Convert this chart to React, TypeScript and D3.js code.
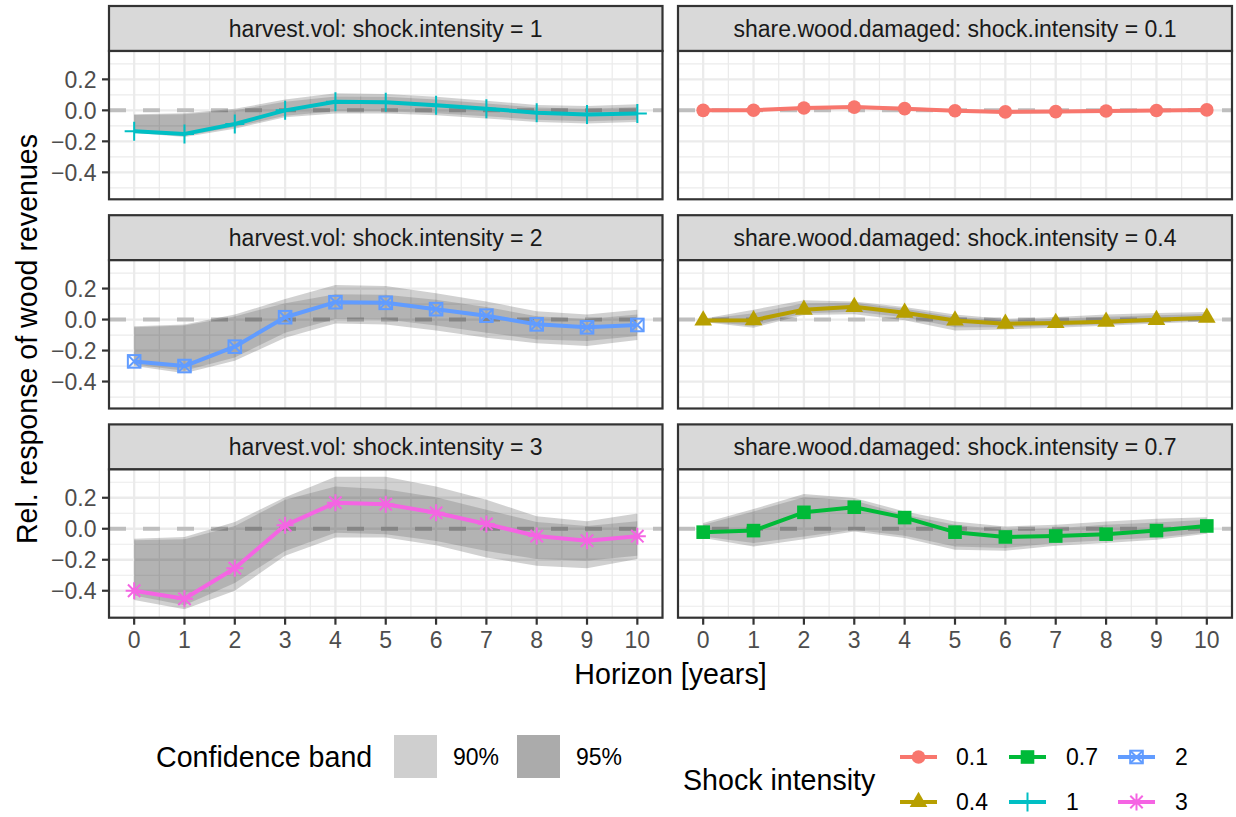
import React from 'react';
import * as d3 from 'd3';

// ---- data -------------------------------------------------------------
const horizon = [0, 1, 2, 3, 4, 5, 6, 7, 8, 9, 10];
const xTickLabels = ['0', '1', '2', '3', '4', '5', '6', '7', '8', '9', '10'];
const xMinorBreaks = [0.5, 1.5, 2.5, 3.5, 4.5, 5.5, 6.5, 7.5, 8.5, 9.5];
const yMajorBreaks = [-0.4, -0.2, 0, 0.2];
const yTickLabels = ['\u22120.4', '\u22120.2', '0.0', '0.2'];
const yMinorBreaks = [-0.5, -0.3, -0.1, 0.1, 0.3];

const intensityLevels = ['0.1', '0.4', '0.7', '1', '2', '3'];
const intensityColors = ['#F8766D', '#B79F00', '#00BA38', '#00BFC4', '#619CFF', '#F564E3'];
const intensityShapes = ['circle', 'triangle', 'square', 'plus', 'boxx', 'asterisk'];

const bandLabels = ['90%', '95%'];
const bandKeyColors = ['#CFCFCF', '#ABABAB'];

// harvest.vol, shock.intensity = 1
const hv1Est = [-0.135, -0.152, -0.088, 0.0, 0.056, 0.053, 0.033, 0.01, -0.015, -0.027, -0.02];
const hv1WideHi = [-0.025, -0.018, 0.01, 0.07, 0.11, 0.105, 0.088, 0.062, 0.034, 0.028, 0.04];
const hv1WideLo = [-0.145, -0.172, -0.118, -0.045, -0.02, -0.02, -0.032, -0.052, -0.075, -0.085, -0.075];
const hv1NarHi = [-0.03, -0.025, 0.0, 0.055, 0.09, 0.088, 0.07, 0.045, 0.018, 0.01, 0.022];
const hv1NarLo = [-0.14, -0.165, -0.108, -0.035, -0.005, -0.005, -0.018, -0.038, -0.06, -0.07, -0.06];

// harvest.vol, shock.intensity = 2
const hv2Est = [-0.27, -0.3, -0.175, 0.015, 0.112, 0.108, 0.067, 0.025, -0.031, -0.05, -0.035];
const hv2WideHi = [-0.043, -0.032, 0.032, 0.132, 0.223, 0.217, 0.17, 0.117, 0.053, 0.032, 0.064];
const hv2WideLo = [-0.3, -0.347, -0.266, -0.117, -0.026, -0.032, -0.07, -0.117, -0.153, -0.17, -0.132];
const hv2NarHi = [-0.049, -0.038, 0.02, 0.106, 0.164, 0.16, 0.128, 0.081, 0.021, 0.004, 0.032];
const hv2NarLo = [-0.29, -0.33, -0.245, -0.085, 0.004, 0.0, -0.038, -0.085, -0.128, -0.138, -0.106];

// harvest.vol, shock.intensity = 3
const hv3Est = [-0.4, -0.452, -0.255, 0.022, 0.168, 0.158, 0.103, 0.031, -0.047, -0.077, -0.048];
const hv3WideHi = [-0.064, -0.053, 0.043, 0.204, 0.336, 0.336, 0.272, 0.187, 0.081, 0.049, 0.098];
const hv3WideLo = [-0.46, -0.52, -0.4, -0.174, -0.057, -0.057, -0.106, -0.185, -0.238, -0.255, -0.196];
const hv3NarHi = [-0.074, -0.068, 0.017, 0.187, 0.272, 0.255, 0.204, 0.123, 0.043, 0.017, 0.049];
const hv3NarLo = [-0.43, -0.493, -0.35, -0.143, -0.026, -0.036, -0.079, -0.143, -0.196, -0.206, -0.174];

// share.wood.damaged, shock.intensity = 0.1
const sw1Est = [0.0, 0.001, 0.015, 0.021, 0.011, -0.003, -0.01, -0.008, -0.004, -0.001, 0.003];
const sw1WideHi = [0.008, 0.01, 0.025, 0.031, 0.021, 0.007, 0.0, 0.002, 0.006, 0.009, 0.013];
const sw1WideLo = [-0.008, -0.008, 0.005, 0.011, 0.001, -0.013, -0.02, -0.018, -0.014, -0.011, -0.007];
const sw1NarHi = [0.005, 0.007, 0.021, 0.027, 0.017, 0.003, -0.004, -0.002, 0.002, 0.005, 0.009];
const sw1NarLo = [-0.005, -0.005, 0.009, 0.015, 0.005, -0.009, -0.016, -0.014, -0.01, -0.007, -0.003];

// share.wood.damaged, shock.intensity = 0.4
const sw4Est = [-0.006, -0.004, 0.064, 0.082, 0.044, -0.006, -0.027, -0.022, -0.014, -0.002, 0.012];
const sw4WideHi = [0.005, 0.064, 0.125, 0.117, 0.081, 0.032, 0.004, 0.017, 0.032, 0.043, 0.049];
const sw4WideLo = [-0.015, -0.053, 0.03, 0.035, -0.004, -0.07, -0.064, -0.053, -0.04, -0.026, -0.012];
const sw4NarHi = [0.002, 0.04, 0.105, 0.108, 0.07, 0.018, -0.006, 0.005, 0.018, 0.028, 0.036];
const sw4NarLo = [-0.012, -0.04, 0.04, 0.05, 0.015, -0.05, -0.05, -0.042, -0.03, -0.018, -0.004];

// share.wood.damaged, shock.intensity = 0.7
const sw7Est = [-0.022, -0.012, 0.106, 0.139, 0.072, -0.022, -0.053, -0.047, -0.035, -0.012, 0.018];
const sw7WideHi = [0.037, 0.127, 0.224, 0.198, 0.112, 0.047, 0.015, 0.026, 0.047, 0.065, 0.075];
const sw7WideLo = [-0.06, -0.114, -0.067, -0.017, -0.06, -0.135, -0.142, -0.11, -0.092, -0.071, -0.032];
const sw7NarHi = [0.026, 0.112, 0.204, 0.183, 0.09, 0.026, -0.006, 0.004, 0.026, 0.04, 0.058];
const sw7NarLo = [-0.05, -0.092, -0.05, -0.006, -0.045, -0.114, -0.124, -0.092, -0.075, -0.056, -0.024];

type Panel = {
  strip: string;
  col: number;
  row: number;
  level: number;
  est: number[];
  wideHi: number[];
  wideLo: number[];
  narHi: number[];
  narLo: number[];
};

const panels: Panel[] = [
  { strip: 'harvest.vol: shock.intensity = 1', col: 0, row: 0, level: 3, est: hv1Est, wideHi: hv1WideHi, wideLo: hv1WideLo, narHi: hv1NarHi, narLo: hv1NarLo },
  { strip: 'harvest.vol: shock.intensity = 2', col: 0, row: 1, level: 4, est: hv2Est, wideHi: hv2WideHi, wideLo: hv2WideLo, narHi: hv2NarHi, narLo: hv2NarLo },
  { strip: 'harvest.vol: shock.intensity = 3', col: 0, row: 2, level: 5, est: hv3Est, wideHi: hv3WideHi, wideLo: hv3WideLo, narHi: hv3NarHi, narLo: hv3NarLo },
  { strip: 'share.wood.damaged: shock.intensity = 0.1', col: 1, row: 0, level: 0, est: sw1Est, wideHi: sw1WideHi, wideLo: sw1WideLo, narHi: sw1NarHi, narLo: sw1NarLo },
  { strip: 'share.wood.damaged: shock.intensity = 0.4', col: 1, row: 1, level: 1, est: sw4Est, wideHi: sw4WideHi, wideLo: sw4WideLo, narHi: sw4NarHi, narLo: sw4NarLo },
  { strip: 'share.wood.damaged: shock.intensity = 0.7', col: 1, row: 2, level: 2, est: sw7Est, wideHi: sw7WideHi, wideLo: sw7WideLo, narHi: sw7NarHi, narLo: sw7NarLo },
];

// ---- layout -----------------------------------------------------------
const W = 1236;
const H = 817;
const FONT = "'Liberation Sans', Arial, Helvetica, sans-serif";
const colLeft = [109, 678];
const colRight = [662.5, 1232];
const rowTop0 = 6;
const rowStep = 209.2;
const stripH = 45;
const panelH = 148.3;
const yDomain: [number, number] = [-0.574, 0.383];
const tickLen = 7;
const axisText = '#4D4D4D';
const frame = '#333333';
const lineW = 4;

function Marker({ shape, x, y, color }: { shape: string; x: number; y: number; color: string }) {
  const t = `translate(${x},${y})`;
  switch (shape) {
    case 'circle':
      return <circle cx={x} cy={y} r={6.8} fill={color} />;
    case 'triangle':
      return <path transform={t} d={d3.symbol(d3.symbolTriangle, 135)() || ''} fill={color} />;
    case 'square':
      return <rect x={x - 6.8} y={y - 6.8} width={13.6} height={13.6} fill={color} />;
    case 'plus':
      return <path transform={t} d="M-9.5,0H9.5M0,-9.5V9.5" stroke={color} strokeWidth={2} fill="none" />;
    case 'boxx':
      return (
        <g transform={t} stroke={color} strokeWidth={2} fill="none">
          <rect x={-6.3} y={-6.3} width={12.6} height={12.6} />
          <path d="M-6.3,-6.3L6.3,6.3M-6.3,6.3L6.3,-6.3" />
        </g>
      );
    case 'asterisk':
      return <path transform={t} d="M-8.5,0H8.5M0,-8.5V8.5M-6.2,-6.2L6.2,6.2M-6.2,6.2L6.2,-6.2" stroke={color} strokeWidth={2} fill="none" />;
    default:
      return null;
  }
}

function FacetPanel({ p }: { p: Panel }) {
  const left = colLeft[p.col];
  const right = colRight[p.col];
  const stripTop = rowTop0 + p.row * rowStep;
  const top = stripTop + stripH;
  const bottom = top + panelH;
  const x = d3.scaleLinear().domain([-0.5, 10.5]).range([left, right]);
  const y = d3.scaleLinear().domain(yDomain).range([bottom, top]);
  const color = intensityColors[p.level];
  const shape = intensityShapes[p.level];
  const clipId = `clip-${p.col}-${p.row}`;

  const wide = d3
    .area<number>()
    .x((d) => x(d))
    .y0((_, i) => y(p.wideLo[i]))
    .y1((_, i) => y(p.wideHi[i]));
  const narrow = d3
    .area<number>()
    .x((d) => x(d))
    .y0((_, i) => y(p.narLo[i]))
    .y1((_, i) => y(p.narHi[i]));
  const line = d3
    .line<number>()
    .x((d) => x(d))
    .y((_, i) => y(p.est[i]));

  return (
    <g>
      <defs>
        <clipPath id={clipId}>
          <rect x={left} y={top} width={right - left} height={panelH} />
        </clipPath>
      </defs>
      {/* strip */}
      <rect x={left} y={stripTop} width={right - left} height={stripH} fill="#D9D9D9" stroke={frame} strokeWidth={2.2} />
      <text x={(left + right) / 2} y={stripTop + stripH / 2} dy="0.36em" textAnchor="middle" fontSize={23} fill="#1A1A1A" fontFamily={FONT}>
        {p.strip}
      </text>
      {/* panel */}
      <rect x={left} y={top} width={right - left} height={panelH} fill="#FFFFFF" />
      <g clipPath={`url(#${clipId})`}>
        {yMinorBreaks.map((v) => (
          <line key={`ym${v}`} x1={left} x2={right} y1={y(v)} y2={y(v)} stroke="#EBEBEB" strokeWidth={1.2} />
        ))}
        {xMinorBreaks.map((v) => (
          <line key={`xm${v}`} x1={x(v)} x2={x(v)} y1={top} y2={bottom} stroke="#EBEBEB" strokeWidth={1.2} />
        ))}
        {yMajorBreaks.map((v) => (
          <line key={`yM${v}`} x1={left} x2={right} y1={y(v)} y2={y(v)} stroke="#EBEBEB" strokeWidth={2.3} />
        ))}
        {horizon.map((v) => (
          <line key={`xM${v}`} x1={x(v)} x2={x(v)} y1={top} y2={bottom} stroke="#EBEBEB" strokeWidth={2.3} />
        ))}
        <line x1={left} x2={right} y1={y(0)} y2={y(0)} stroke="#BEBEBE" strokeWidth={4} strokeDasharray="17,17" />
        <path d={wide(horizon) || ''} fill="#000000" fillOpacity={0.18} />
        <path d={narrow(horizon) || ''} fill="#000000" fillOpacity={0.14} />
        <path d={line(horizon) || ''} fill="none" stroke={color} strokeWidth={lineW} strokeLinejoin="round" />
        {horizon.map((h, i) => (
          <Marker key={h} shape={shape} x={x(h)} y={y(p.est[i])} color={color} />
        ))}
      </g>
      <rect x={left} y={top} width={right - left} height={panelH} fill="none" stroke={frame} strokeWidth={2.2} />
      {/* y axis on left column */}
      {p.col === 0 &&
        yMajorBreaks.map((v, i) => (
          <g key={`yt${v}`}>
            <line x1={left - tickLen} x2={left} y1={y(v)} y2={y(v)} stroke={frame} strokeWidth={2.2} />
            <text x={left - tickLen - 5.5} y={y(v)} dy="0.36em" textAnchor="end" fontSize={23} fill={axisText} fontFamily={FONT}>
              {yTickLabels[i]}
            </text>
          </g>
        ))}
      {/* x axis on bottom row */}
      {p.row === 2 &&
        horizon.map((v, i) => (
          <g key={`xt${v}`}>
            <line x1={x(v)} x2={x(v)} y1={bottom} y2={bottom + tickLen} stroke={frame} strokeWidth={2.2} />
            <text x={x(v)} y={bottom + 30.5} textAnchor="middle" fontSize={23} fill={axisText} fontFamily={FONT}>
              {xTickLabels[i]}
            </text>
          </g>
        ))}
    </g>
  );
}

function Legends() {
  // confidence band legend
  const bandKeyX = [394, 517];
  const bandLabelX = [453, 576];
  // shock intensity legend: 2 rows, filled column by column
  const colX = [918.5, 1027.5, 1136.5];
  const labelX = [956, 1066, 1175];
  const rowY = [757, 802];
  return (
    <g fontFamily={FONT}>
      <text x={156} y={757} dy="0.36em" fontSize={28.6} fill="#000">
        Confidence band
      </text>
      {bandLabels.map((lab, i) => (
        <g key={lab}>
          <rect x={bandKeyX[i]} y={735} width={43} height={43} fill={bandKeyColors[i]} />
          <text x={bandLabelX[i]} y={757} dy="0.36em" fontSize={23} fill="#000">
            {lab}
          </text>
        </g>
      ))}
      <text x={683} y={780} dy="0.36em" fontSize={28.6} fill="#000">
        Shock intensity
      </text>
      {intensityLevels.map((lab, i) => {
        const c = Math.floor(i / 2);
        const r = i % 2;
        const cx = colX[c];
        const cy = rowY[r];
        return (
          <g key={lab}>
            <line x1={cx - 18.5} x2={cx + 18.5} y1={cy} y2={cy} stroke={intensityColors[i]} strokeWidth={lineW} />
            <Marker shape={intensityShapes[i]} x={cx} y={cy} color={intensityColors[i]} />
            <text x={labelX[c]} y={cy} dy="0.36em" fontSize={23} fill="#000">
              {lab}
            </text>
          </g>
        );
      })}
    </g>
  );
}

export default function App() {
  return (
    <svg
      width={W}
      height={H}
      viewBox={`0 0 ${W} ${H}`}
      style={{ position: 'absolute', left: 0, top: 0, background: '#FFFFFF' }}
    >
      <rect x={0} y={0} width={W} height={H} fill="#FFFFFF" />
      {panels.map((p) => (
        <FacetPanel key={p.strip} p={p} />
      ))}
      <text
        transform={`translate(37,339) rotate(-90)`}
        textAnchor="middle"
        fontSize={28.6}
        fill="#000"
        fontFamily={FONT}
      >
        Rel. response of wood revenues
      </text>
      <text x={670.5} y={683.5} textAnchor="middle" fontSize={28.6} fill="#000" fontFamily={FONT}>
        Horizon [years]
      </text>
      <Legends />
    </svg>
  );
}
